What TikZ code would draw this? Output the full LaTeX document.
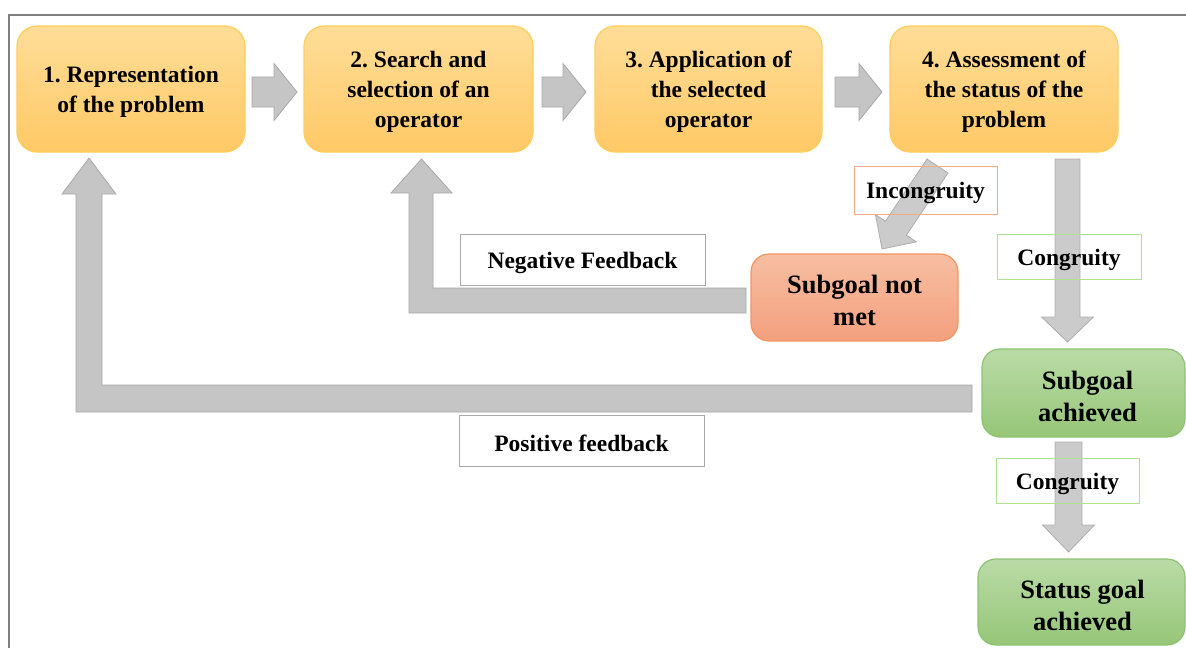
\documentclass[tikz,border=0pt]{standalone}
\usepackage{fontspec}
\setmainfont{Liberation Serif}
\usetikzlibrary{calc}
\frenchspacing
\definecolor{ytop}{RGB}{255,221,152}
\definecolor{ybot}{RGB}{255,201,102}
\definecolor{ybrd}{RGB}{255,206,90}
\definecolor{stop}{RGB}{247,190,162}
\definecolor{sbot}{RGB}{243,160,126}
\definecolor{sbrd}{RGB}{240,150,100}
\definecolor{gtop}{RGB}{186,219,166}
\definecolor{gbot}{RGB}{150,198,120}
\definecolor{gbrd}{RGB}{140,195,115}
\definecolor{afill}{RGB}{197,197,197}
\definecolor{aline}{RGB}{168,168,168}
\definecolor{lgray}{RGB}{170,170,170}
\definecolor{lorange}{RGB}{244,170,130}
\definecolor{lgreen}{RGB}{176,224,144}
\definecolor{frame}{RGB}{128,128,128}
\newcommand\blockarr[5]{%
  \draw[garrow] ($(#1)!#3!90:(#2)$) -- ($(#2)!#5!(#1)!#3!-90:(#1)$) -- ($(#2)!#5!(#1)!#4!-90:(#1)$) -- (#2) -- ($(#2)!#5!(#1)!#4!90:(#1)$) -- ($(#2)!#5!(#1)!#3!90:(#1)$) -- ($(#1)!#3!-90:(#2)$) -- cycle;}
\begin{document}
\frenchspacing
\begin{tikzpicture}[x=1pt,y=-1pt,
  txt/.style={font=\bfseries\fontsize{23.5}{30}\selectfont, align=center, text=black, execute at begin node={\frenchspacing\rule{0pt}{23pt}}},
  boxtxt/.style={font=\bfseries\fontsize{23.5}{30}\selectfont, align=center, text=black, inner sep=0pt},
  bigtxt/.style={font=\bfseries\fontsize{26.5}{32}\selectfont, align=center, text=black, inner sep=0pt},
  ybox/.style={rounded corners=20pt, draw=ybrd, line width=1.2pt, top color=ytop, bottom color=ybot, minimum height=126pt, inner sep=0pt},
  sbox/.style={rounded corners=18pt, draw=sbrd, line width=1.2pt, top color=stop, bottom color=sbot, inner sep=0pt},
  gbox/.style={rounded corners=18pt, draw=gbrd, line width=1.2pt, top color=gtop, bottom color=gbot, inner sep=0pt},
  lbl/.style={txt, draw=#1, line width=1pt, inner sep=0pt},
  garrow/.style={fill=afill, draw=aline, line width=0.8pt, line join=miter}
]
\useasboundingbox (0,0) rectangle (1186,648);
\draw[frame, line width=2pt] (8.5,648) -- (8.5,15) -- (1186,15);

% process boxes
\node[ybox, minimum width=228pt] (b1) at (131,89) {};
\node[ybox, minimum width=229pt] (b2) at (418.5,89) {};
\node[ybox, minimum width=227pt] (b3) at (708.5,89) {};
\node[ybox, minimum width=228pt] (b4) at (1004,89) {};
\node[sbox, minimum width=207pt, minimum height=87pt] (snm) at (854.5,297.5) {};
\node[gbox, minimum width=203pt, minimum height=88pt] (sa) at (1083.5,393) {};
\node[gbox, minimum width=207pt, minimum height=86pt] (sga) at (1081.5,602) {};

\node[boxtxt] (b1t) at ($(b1.center)+(0,3)$) {1. Representation\\of the problem};
\node[boxtxt] (b2t) at ($(b2.center)+(0,3)$) {2. Search and\\selection of an\\operator};
\node[boxtxt] (b3t) at ($(b3.center)+(0,3)$) {3. Application of\\the selected\\operator};
\node[boxtxt] (b4t) at ($(b4.center)+(0,3)$) {4. Assessment of\\the status of the\\problem};
\node[bigtxt] (snmt) at ($(snm.center)+(0,2.5)$) {Subgoal not\\met};
\node[bigtxt] (sat) at ($(sa.center)+(4,3)$) {Subgoal\\achieved};
\node[bigtxt] (sgat) at ($(sga.center)+(1,3)$) {Status goal\\achieved};

% arrow end points
\coordinate (h1a) at (252,92);  \coordinate (h1b) at (297,92);
\coordinate (h2a) at (542,92);  \coordinate (h2b) at (586,92);
\coordinate (h3a) at (835,92);  \coordinate (h3b) at (882,92);
\coordinate (ia) at (937.5,166); \coordinate (ib) at (882,249);
\coordinate (v1a) at (1067.5,159); \coordinate (v1b) at (1067.5,342);
\coordinate (v2a) at (1068.5,442); \coordinate (v2b) at (1068.5,552);

\blockarr{h1a}{h1b}{15pt}{28.5pt}{23pt}
\blockarr{h2a}{h2b}{15pt}{28.5pt}{23pt}
\blockarr{h3a}{h3b}{15pt}{28.5pt}{23pt}

% feedback arrows
\coordinate (pftip) at (89,158);
\draw[garrow] (pftip) -- (116,194) -- (102,194) -- (102,385) -- (972,385) -- (972,412) -- (76,412) -- (76,194) -- (62,194) -- cycle;
\coordinate (nftip) at (421.5,159);
\draw[garrow] (nftip) -- (452,193) -- (433,193) -- (433,288) -- (746,288) -- (746,313) -- (409,313) -- (409,193) -- (391,193) -- cycle;

\begin{scope}[opacity=0.9]
\blockarr{ia}{ib}{12.6pt}{24.6pt}{25pt}
\blockarr{v1a}{v1b}{12.5pt}{26pt}{25pt}
\blockarr{v2a}{v2b}{13.5pt}{26pt}{27pt}
\end{scope}

% labels
\node[lbl=lgray, fill=white, minimum width=245pt, minimum height=51pt] (neg) at (582.5,259.5) {Negative Feedback};
\node[lbl=lgray, fill=white, minimum width=245pt, minimum height=51pt] (pos) at (581.5,440.5) {Positive feedback};
\node[lbl=lorange, minimum width=143pt, minimum height=48pt] (inc) at (925.5,190) {Incongruity};
\node[lbl=lgreen, minimum width=144pt, minimum height=45pt] (cg1) at (1069,256.5) {Congruity};
\node[lbl=lgreen, minimum width=143pt, minimum height=45pt] (cg2) at (1067.5,480.5) {Congruity};
\end{tikzpicture}
\end{document}
